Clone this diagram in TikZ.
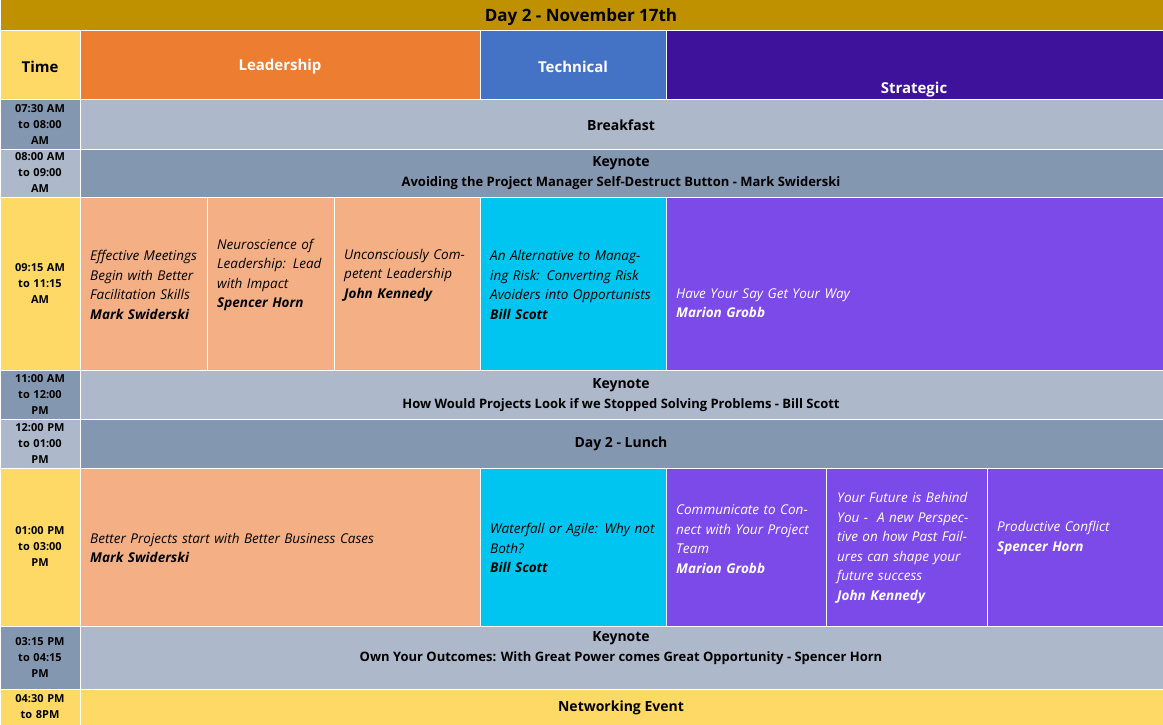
\documentclass[tikz,border=0pt]{standalone}
\usepackage{fontspec}
\setmainfont{Open Sans}
\usetikzlibrary{positioning}
\definecolor{gold}{HTML}{BF9000}
\definecolor{tyellow}{HTML}{FFD966}
\definecolor{gdark}{HTML}{8497B0}
\definecolor{glight}{HTML}{ADB9CA}
\definecolor{lead}{HTML}{ED7D31}
\definecolor{tech}{HTML}{4472C4}
\definecolor{strat}{HTML}{3F129B}
\definecolor{salmon}{HTML}{F4B084}
\definecolor{cyan}{HTML}{00C5F0}
\definecolor{purp}{HTML}{7D4AEA}
\newcommand{\cellbox}[5]{\fill[#5,draw=white,line width=1pt] (#1,#2) rectangle (#3,#4);}
\tikzset{
  timetxt/.style={font=\fontsize{11}{16}\selectfont\bfseries,align=center,text width=62pt,inner sep=0pt},
  headtxt/.style={font=\fontsize{15}{18}\selectfont\bfseries},
  bartxt/.style={font=\fontsize{14}{20}\selectfont\bfseries,align=center},
  sesstxt/.style={font=\fontsize{13.5}{19.5}\selectfont\itshape,align=left,anchor=west,inner sep=0pt},
}
\begin{document}
\begin{tikzpicture}[x=1pt,y=-1pt]
\useasboundingbox (0,0) rectangle (1163,725);
% title and headers
\cellbox{0}{0}{1163}{31}{gold}
\node[headtxt,font=\fontsize{17}{20}\selectfont\bfseries] (title) at (581,17) {Day 2 - November 17th};
\cellbox{0}{31}{80}{100}{tyellow}
\cellbox{80}{31}{480}{100}{lead}
\cellbox{480}{31}{666}{100}{tech}
\cellbox{666}{31}{1163}{100}{strat}
\node[headtxt] (htime) at (40,67) {Time};
\node[headtxt,white] (hlead) at (280,67) {Leadership};
\node[headtxt,white] (htech) at (573,67) {Technical};
\node[headtxt,white] (hstrat) at (914,90) {Strategic};
% time column
\cellbox{0}{100}{80}{149}{gdark}
\cellbox{0}{149}{80}{197}{glight}
\cellbox{0}{197}{80}{370}{tyellow}
\cellbox{0}{370}{80}{419}{gdark}
\cellbox{0}{419}{80}{468}{glight}
\cellbox{0}{468}{80}{626}{tyellow}
\cellbox{0}{626}{80}{689}{gdark}
\cellbox{0}{689}{80}{725}{tyellow}
\node[timetxt] (t1) at (40,124.5) {07:30 AM\\to 08:00\\AM};
\node[timetxt] (t2) at (40,173) {08:00 AM\\to 09:00\\AM};
\node[timetxt] (t3) at (40,283.5) {09:15 AM\\to 11:15\\AM};
\node[timetxt] (t4) at (40,394.5) {11:00 AM\\to 12:00\\PM};
\node[timetxt] (t5) at (40,443.5) {12:00 PM\\to 01:00\\PM};
\node[timetxt] (t6) at (40,547) {01:00 PM\\to 03:00\\PM};
\node[timetxt] (t7) at (40,657.5) {03:15 PM\\to 04:15\\PM};
\node[timetxt] (t8) at (40,707) {04:30 PM\\to 8PM};
% full-width rows
\cellbox{80}{100}{1163}{149}{glight}
\cellbox{80}{149}{1163}{197}{gdark}
\cellbox{80}{370}{1163}{419}{glight}
\cellbox{80}{419}{1163}{468}{gdark}
\cellbox{80}{626}{1163}{689}{glight}
\cellbox{80}{689}{1163}{725}{tyellow}
\node[bartxt] (bfast) at (621,125) {Breakfast};
\node[bartxt] (key1) at (621,173) {Keynote\\{\fontsize{13}{20}\selectfont Avoiding the Project Manager Self-Destruct Button - Mark Swiderski}};
\node[bartxt] (key2) at (621,395) {Keynote\\{\fontsize{13}{20}\selectfont How Would Projects Look if we Stopped Solving Problems - Bill Scott}};
\node[bartxt] (lunch) at (621,444) {Day 2 - Lunch};
\node[bartxt] (key3) at (621,648) {Keynote\\{\fontsize{13}{20}\selectfont Own Your Outcomes: With Great Power comes Great Opportunity - Spencer Horn}};
\node[bartxt] (netw) at (621,708) {Networking Event};
% morning sessions
\cellbox{80}{197}{207}{370}{salmon}
\cellbox{207}{197}{334}{370}{salmon}
\cellbox{334}{197}{480}{370}{salmon}
\cellbox{480}{197}{666}{370}{cyan}
\cellbox{666}{197}{1163}{370}{purp}
\node[sesstxt,text width=115pt] (s1) at (90,285) {Effective Meetings Begin with Better Facilitation Skills\\\textbf{Mark Swiderski}};
\node[sesstxt,text width=115pt] (s2) at (217,275) {Neuroscience of Leadership: Lead with Impact\\\textbf{Spencer Horn}};
\node[sesstxt,text width=130pt] (s3) at (344,275) {Unconsciously Competent Leadership\\\textbf{John Kennedy}};
\node[sesstxt,text width=170pt] (s4) at (490,285) {An Alternative to Managing Risk: Converting Risk Avoiders into Opportunists\\\textbf{Bill Scott}};
\node[sesstxt,white,text width=400pt] (s5) at (676,303) {Have Your Say Get Your Way\\\textbf{Marion Grobb}};
% afternoon sessions
\cellbox{80}{468}{480}{626}{salmon}
\cellbox{480}{468}{666}{626}{cyan}
\cellbox{666}{468}{826}{626}{purp}
\cellbox{826}{468}{987}{626}{purp}
\cellbox{987}{468}{1163}{626}{purp}
\node[sesstxt,text width=380pt] (a1) at (90,548) {Better Projects start with Better Business Cases\\\textbf{Mark Swiderski}};
\node[sesstxt,text width=165pt] (a2) at (490,548) {Waterfall or Agile: Why not Both?\\\textbf{Bill Scott}};
\node[sesstxt,white,text width=140pt] (a3) at (676,539) {Communicate to Connect with Your Project Team\\\textbf{Marion Grobb}};
\node[sesstxt,white,text width=142pt] (a4) at (837,548) {Your Future is Behind You -\ \ A new Perspective on how Past Failures can shape your future success\\\textbf{John Kennedy}};
\node[sesstxt,white,text width=160pt] (a5) at (997,538) {Productive Conflict\\\textbf{Spencer Horn}};
\end{tikzpicture}
\end{document}
